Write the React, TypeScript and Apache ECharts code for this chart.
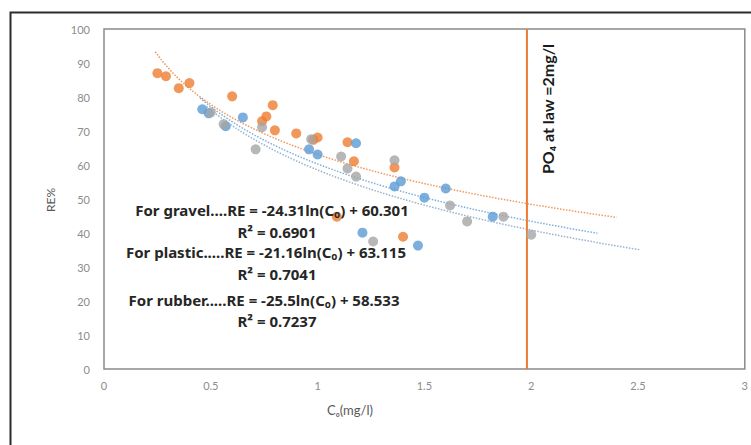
import React, { useEffect, useRef } from "react";
import * as echarts from "echarts";

// Data: [Co (mg/l), RE %]
const gravelPoints: [number, number][] = [
  [0.46, 76.4], [0.49, 75.2], [0.65, 74.0], [0.57, 71.4], [0.96, 64.6],
  [1.0, 63.1], [1.18, 66.4], [1.36, 53.7], [1.39, 55.2], [1.5, 50.4],
  [1.6, 53.1], [1.21, 40.1], [1.47, 36.3], [1.82, 44.8],
];
const plasticPoints: [number, number][] = [
  [0.25, 87.0], [0.29, 86.1], [0.35, 82.6], [0.4, 84.1], [0.6, 80.2],
  [0.74, 72.9], [0.76, 74.3], [0.79, 77.6], [0.8, 70.2], [0.9, 69.3],
  [0.98, 67.4], [1.0, 68.1], [1.14, 66.7], [1.09, 44.8], [1.17, 61.1],
  [1.36, 59.3], [1.4, 38.9],
];
const rubberPoints: [number, number][] = [
  [0.5, 75.5], [0.56, 72.0], [0.74, 71.1], [0.71, 64.6], [0.97, 67.6],
  [1.11, 62.5], [1.14, 59.0], [1.18, 56.6], [1.36, 61.4], [1.26, 37.5],
  [1.62, 48.1], [1.7, 43.4], [1.87, 44.8], [2.0, 39.5],
];

// Logarithmic trend lines as printed on the chart: RE = a*ln(Co) + b
const trendGravel = { a: -24.31, b: 60.301, from: 0.45, to: 2.31 };
const trendPlastic = { a: -21.16, b: 63.115, from: 0.24, to: 2.4 };
const trendRubber = { a: -25.5, b: 58.533, from: 0.48, to: 2.51 };

const lawLimit = 1.98;

const xTicks = { min: 0, max: 3, interval: 0.5 };
const yTicks = { min: 0, max: 100, interval: 10 };

const BLUE = "#5B9BD5";
const ORANGE = "#ED7D31";
const GRAY = "#A5A5A5";

function trendData(t: { a: number; b: number; from: number; to: number }) {
  const pts: [number, number][] = [];
  const n = 80;
  for (let i = 0; i <= n; i++) {
    const x = t.from + ((t.to - t.from) * i) / n;
    pts.push([x, t.a * Math.log(x) + t.b]);
  }
  return pts;
}

export default function App() {
  const ref = useRef<HTMLDivElement>(null);
  useEffect(() => {
    if (!ref.current) return;
    const chart = echarts.init(ref.current, null, { renderer: "svg" });
    const labelFont = "Lato, 'Noto Sans', sans-serif";
    const annStyle = {
      fill: "#262626",
      font: `bold 15px 'Noto Sans', sans-serif`,
    };
    chart.setOption({
      animation: false,
      backgroundColor: "#ffffff",
      grid: {
        left: 104,
        top: 29,
        right: 3,
        bottom: 76,
        show: true,
        borderColor: "#8a8a8a",
        borderWidth: 1.5,
        backgroundColor: "transparent",
      },
      xAxis: {
        type: "value",
        min: xTicks.min,
        max: xTicks.max,
        interval: xTicks.interval,
        axisLine: { show: false },
        axisTick: { show: false },
        splitLine: { show: false },
        axisLabel: {
          color: "#8c8c8c",
          fontSize: 11,
          fontFamily: labelFont,
          margin: 11,
        },
      },
      yAxis: {
        type: "value",
        min: yTicks.min,
        max: yTicks.max,
        interval: yTicks.interval,
        axisLine: { show: false },
        axisTick: { show: false },
        splitLine: { show: false },
        axisLabel: {
          color: "#8c8c8c",
          fontSize: 11,
          fontFamily: labelFont,
          margin: 14,
        },
      },
      series: [
        {
          type: "line",
          data: trendData(trendPlastic),
          showSymbol: false,
          symbol: "none",
          lineStyle: { color: ORANGE, width: 1.5, type: "dotted", opacity: 0.8 },
          z: 2,
        },
        {
          type: "line",
          data: trendData(trendGravel),
          showSymbol: false,
          symbol: "none",
          lineStyle: { color: BLUE, width: 1.5, type: "dotted", opacity: 0.8 },
          z: 2,
        },
        {
          type: "line",
          data: trendData(trendRubber),
          showSymbol: false,
          symbol: "none",
          lineStyle: { color: "#7f9fbf", width: 1.5, type: "dotted", opacity: 0.8 },
          z: 2,
        },
        {
          type: "line",
          data: [
            [lawLimit, yTicks.min],
            [lawLimit, yTicks.max],
          ],
          symbol: "none",
          lineStyle: { color: ORANGE, width: 2 },
          z: 3,
        },
        {
          type: "scatter",
          data: plasticPoints,
          symbolSize: 10,
          itemStyle: { color: ORANGE },
          z: 4,
        },
        {
          type: "scatter",
          data: gravelPoints,
          symbolSize: 10,
          itemStyle: { color: BLUE },
          z: 4,
        },
        {
          type: "scatter",
          data: rubberPoints,
          symbolSize: 10,
          itemStyle: { color: GRAY },
          z: 4,
        },
      ],
      graphic: [
        {
          type: "rect",
          left: 8,
          top: 10,
          shape: { width: 760, height: 460 },
          style: { fill: "none", stroke: "#2b2b2b", lineWidth: 2 },
          silent: true,
          z: 10,
        },
        {
          type: "text",
          x: 50,
          y: 200,
          rotation: Math.PI / 2,
          style: {
            text: "RE%",
            fill: "#595959",
            font: `12px ${labelFont}`,
            align: "center",
            verticalAlign: "middle",
          },
        },
        {
          type: "text",
          x: 350,
          y: 410,
          style: {
            text: "Cₒ(mg/l)",
            fill: "#595959",
            font: `13px ${labelFont}`,
            align: "center",
            verticalAlign: "middle",
          },
        },
        {
          type: "text",
          x: 547,
          y: 109,
          rotation: Math.PI / 2,
          style: {
            text: "PO₄ at law =2mg/l",
            fill: "#1a1a1a",
            font: `bold 16px ${labelFont}`,
            align: "center",
            verticalAlign: "middle",
          },
          z: 5,
        },
        { type: "text", x: 272, y: 210, style: { ...annStyle, text: "For gravel....RE = -24.31ln(Cₒ) + 60.301", align: "center", verticalAlign: "middle" }, z: 5 },
        { type: "text", x: 277, y: 232, style: { ...annStyle, text: "R² = 0.6901", align: "center", verticalAlign: "middle" }, z: 5 },
        { type: "text", x: 266, y: 252, style: { ...annStyle, text: "For plastic.....RE = -21.16ln(Cₒ) + 63.115", align: "center", verticalAlign: "middle" }, z: 5 },
        { type: "text", x: 277, y: 274, style: { ...annStyle, text: "R² = 0.7041", align: "center", verticalAlign: "middle" }, z: 5 },
        { type: "text", x: 264, y: 300, style: { ...annStyle, text: "For rubber.....RE = -25.5ln(Cₒ) + 58.533", align: "center", verticalAlign: "middle" }, z: 5 },
        { type: "text", x: 277, y: 321, style: { ...annStyle, text: "R² = 0.7237", align: "center", verticalAlign: "middle" }, z: 5 },
      ],
    });
    return () => chart.dispose();
  }, []);
  return (
    <div
      ref={ref}
      style={{ position: "absolute", left: 0, top: 0, width: 751, height: 445 }}
    />
  );
}
